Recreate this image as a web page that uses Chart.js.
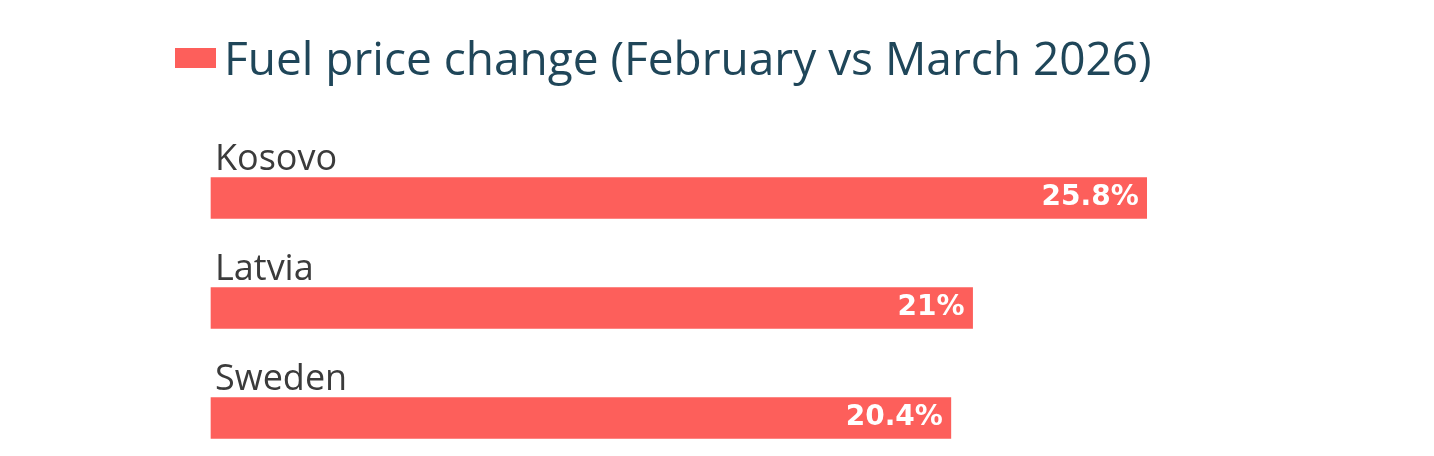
<!DOCTYPE html>
<html>
<head>
<meta charset="utf-8">
<script src="https://cdn.jsdelivr.net/npm/chart.js@4"></script>
<style>
  html, body { margin: 0; padding: 0; background: #fff; overflow: hidden; }
  #wrap { width: 1434px; height: 456px; position: relative; }
</style>
</head>
<body>
<div id="wrap"><canvas id="fuelChart"></canvas></div>
<script>
// данные
const countries = ['Kosovo', 'Latvia', 'Sweden'];
const priceChange = [25.8, 21, 20.4];
const valueLabels = ['25.8%', '21%', '20.4%'];
const seriesName = 'Fuel price change (February vs March 2026)';

const barColor = '#fd5f5b';

// легенда сверху (рисуем сами, чтобы выставить отступы как в оригинале)
const topLegend = {
    id: 'topLegend',
    afterDraw(chart) {
        const ctx = chart.ctx;
        const ds = chart.data.datasets[0];
        ctx.save();
        ctx.fillStyle = ds.backgroundColor;
        ctx.fillRect(175, 48, 41, 20);
        ctx.font = '46px "Open Sans"';
        ctx.fillStyle = '#1f4659';
        ctx.textAlign = 'left';
        ctx.textBaseline = 'alphabetic';
        ctx.fillText(ds.label, 224, 75);
        ctx.restore();
    }
};

// подписи стран над столбцами и значения внутри
const barText = {
    id: 'barText',
    afterDatasetsDraw(chart) {
        const ctx = chart.ctx;
        const meta = chart.getDatasetMeta(0);
        ctx.save();
        meta.data.forEach((bar, i) => {
            const top = bar.y - bar.height / 2;
            ctx.font = '36px "Open Sans"';
            ctx.fillStyle = '#3b3b3b';
            ctx.textAlign = 'left';
            ctx.textBaseline = 'alphabetic';
            ctx.fillText(countries[i], bar.base + 4, top - 8);

            ctx.font = 'bold 28px "DejaVu Sans"';
            ctx.fillStyle = '#ffffff';
            ctx.textAlign = 'right';
            ctx.textBaseline = 'middle';
            ctx.fillText(valueLabels[i], bar.x - 8, bar.y);
        });
        ctx.restore();
    }
};

const ctx = document.getElementById('fuelChart').getContext('2d');
new Chart(ctx, {
    type: 'bar',
    data: {
        labels: countries,
        datasets: [{
            label: seriesName,
            data: priceChange,
            backgroundColor: barColor,
            borderWidth: 0,
            barThickness: 41,
            clip: false
        }]
    },
    options: {
        indexAxis: 'y',
        responsive: true,
        maintainAspectRatio: false,
        animation: false,
        layout: {
            padding: { left: 165, right: 135, top: 198, bottom: 38 }
        },
        scales: {
            x: {
                display: false,
                min: 0,
                max: 30
            },
            y: {
                offset: false,
                ticks: { display: false },
                grid: { display: false },
                border: { display: false },
                afterFit(axis) { axis.width = 46; }
            }
        },
        plugins: {
            legend: { display: false },
            tooltip: { enabled: false }
        }
    },
    plugins: [topLegend, barText]
});
</script>
</body>
</html>
